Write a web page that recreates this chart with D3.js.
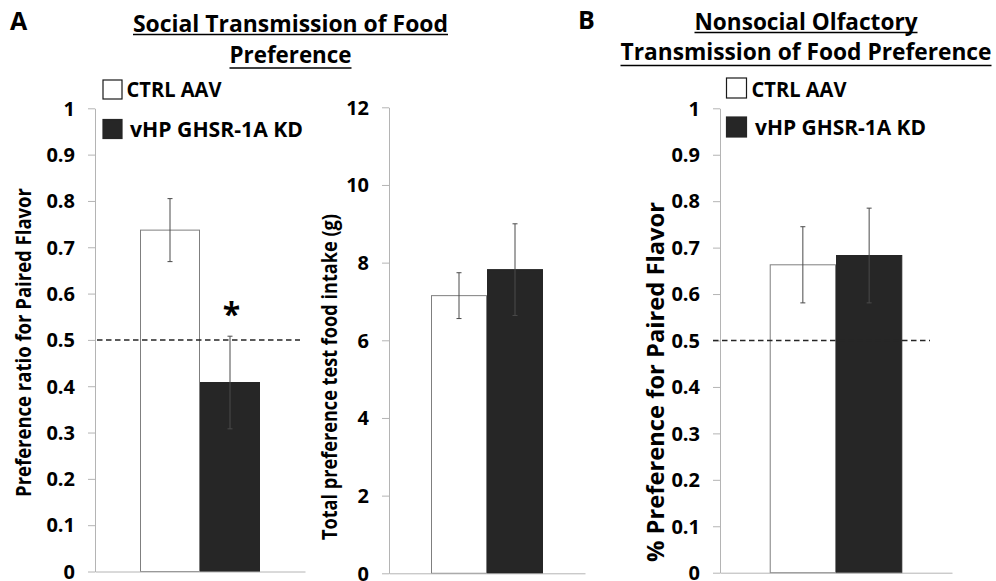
<!DOCTYPE html>
<html>
<head>
<meta charset="utf-8">
<script src="https://cdn.jsdelivr.net/npm/d3@7"></script>
<style>
  html, body { margin: 0; padding: 0; background: #ffffff; }
  svg { display: block; font-family: "Open Sans", Lato, "Liberation Sans", sans-serif; font-weight: bold; }
</style>
</head>
<body>
<script>
// ---------- data ----------
const groups = ["CTRL AAV", "vHP GHSR-1A KD"];
const socialRatio = [0.737, 0.408];
const socialRatioErr = [0.068, 0.100];
const totalIntake = [7.15, 7.82];
const totalIntakeErr = [0.59, 1.18];
const nonsocialPref = [0.663, 0.683];
const nonsocialPrefErr = [0.082, 0.102];
const ratioTicks = [0, 0.1, 0.2, 0.3, 0.4, 0.5, 0.6, 0.7, 0.8, 0.9, 1];
const intakeTicks = [0, 2, 4, 6, 8, 10, 12];
const chanceLevel = 0.5;

// ---------- styles ----------
const fills = ["#ffffff", "#262626"];
const strokes = ["#7f7f7f", "#262626"];
const axisColor = "#b4b4b4";
const errColor = "#4a4a4a";
const FONT = "'Open Sans', Lato, sans-serif";

const svg = d3.select("body").append("svg")
  .attr("width", 996).attr("height", 581);

function drawPanel(p) {
  const x = d3.scaleBand().domain(groups).range(p.xr).paddingInner(0).paddingOuter(0.75);
  const y = d3.scaleLinear().domain(p.domain).range(p.yr);
  const g = svg.append("g");

  // bars
  g.selectAll("rect.bar").data(groups).join("rect")
    .attr("class", "bar")
    .attr("x", d => x(d) + 0.5)
    .attr("y", (d, i) => y(p.values[i]))
    .attr("width", x.bandwidth() - 1)
    .attr("height", (d, i) => y(p.domain[0]) - y(p.values[i]))
    .attr("fill", (d, i) => fills[i])
    .attr("stroke", (d, i) => strokes[i])
    .attr("stroke-width", 1);

  // error bars
  const cap = 2.5;
  groups.forEach((d, i) => {
    const cx = x(d) + x.bandwidth() / 2;
    const top = y(p.values[i] + p.errors[i]);
    const bot = y(p.values[i] - p.errors[i]);
    const eg = g.append("g").attr("stroke", errColor).attr("stroke-width", 1);
    eg.append("line").attr("x1", cx).attr("x2", cx).attr("y1", top).attr("y2", bot);
    eg.append("line").attr("x1", cx - cap).attr("x2", cx + cap).attr("y1", top).attr("y2", top);
    eg.append("line").attr("x1", cx - cap).attr("x2", cx + cap).attr("y1", bot).attr("y2", bot);
  });

  // y axis
  const ya = g.append("g").attr("transform", `translate(${p.xr[0]},0)`)
    .call(d3.axisLeft(y).tickValues(p.ticks).tickSize(7).tickSizeOuter(0).tickPadding(13)
      .tickFormat(d3.format("~g")));
  ya.select(".domain").attr("stroke", axisColor);
  ya.selectAll(".tick line").attr("stroke", axisColor);
  ya.selectAll(".tick text").attr("fill", "#000").attr("font-size", 20)
    .attr("font-family", FONT).attr("font-weight", "bold").attr("dy", "0.34em");

  // x axis (baseline only)
  const xa = g.append("g").attr("transform", `translate(0,${y(p.domain[0])})`)
    .call(d3.axisBottom(x).tickSize(0).tickSizeOuter(0).tickFormat(""));
  xa.select(".domain").attr("stroke", axisColor);

  // chance line
  if (p.dash) {
    g.append("line")
      .attr("x1", p.dash[0]).attr("x2", p.dash[1])
      .attr("y1", y(chanceLevel)).attr("y2", y(chanceLevel))
      .attr("stroke", "#262626").attr("stroke-width", 1.5)
      .attr("stroke-dasharray", "5.5,3.5");
  }

  // y label
  g.append("text")
    .attr("transform", `translate(${p.label.x},${p.label.y}) rotate(-90)`)
    .attr("text-anchor", "middle")
    .attr("font-size", p.label.fs)
    .attr("textLength", p.label.len).attr("lengthAdjust", "spacingAndGlyphs")
    .text(p.label.text);

  if (p.star) {
    const i = 1;
    g.append("text")
      .attr("x", x(groups[i]) + x.bandwidth() / 2 + 1.5)
      .attr("y", p.star)
      .attr("text-anchor", "middle")
      .attr("font-size", 32)
      .text("*");
  }
}

function drawTitle(lines, cx) {
  lines.forEach(l => {
    svg.append("text")
      .attr("x", cx).attr("y", l.y)
      .attr("text-anchor", "middle")
      .attr("font-size", 24)
      .attr("textLength", l.len).attr("lengthAdjust", "spacingAndGlyphs")
      .text(l.text);
    svg.append("line")
      .attr("x1", cx - l.len / 2).attr("x2", cx + l.len / 2)
      .attr("y1", l.u).attr("y2", l.u)
      .attr("stroke", "#000").attr("stroke-width", 1.6);
  });
}

function drawLegend(lg) {
  groups.forEach((d, i) => {
    svg.append("rect")
      .attr("x", lg.x).attr("y", lg.ys[i])
      .attr("width", lg.size).attr("height", lg.size)
      .attr("fill", fills[i]).attr("stroke", i === 0 ? "#1a1a1a" : "#262626")
      .attr("stroke-width", 1.2);
    svg.append("text")
      .attr("x", lg.tx[i]).attr("y", lg.ty[i])
      .attr("font-size", 21)
      .attr("textLength", lg.len[i]).attr("lengthAdjust", "spacingAndGlyphs")
      .text(d);
  });
}

// panel letters
svg.append("text").attr("x", 10).attr("y", 30).attr("font-size", 25).text("A");
svg.append("text").attr("x", 578).attr("y", 28.5).attr("font-size", 25).text("B");

drawTitle([
  {text: "Social Transmission of Food", y: 32, u: 34.5, len: 315},
  {text: "Preference", y: 62.5, u: 68, len: 122}
], 290.5);
drawTitle([
  {text: "Nonsocial Olfactory", y: 29.5, u: 32.5, len: 223},
  {text: "Transmission of Food Preference", y: 60, u: 65.5, len: 371}
], 806);

drawPanel({
  values: socialRatio, errors: socialRatioErr, ticks: ratioTicks, domain: [0, 1],
  xr: [95, 305], yr: [571.5, 108.3], dash: [97, 300], star: 326,
  label: {text: "Preference ratio for Paired Flavor", x: 31, y: 342.5, fs: 22, len: 309}
});
drawPanel({
  values: totalIntake, errors: totalIntakeErr, ticks: intakeTicks, domain: [0, 12],
  xr: [389, 585], yr: [573.3, 107.3],
  label: {text: "Total preference test food intake (g)", x: 337, y: 377, fs: 21, len: 326}
});
drawPanel({
  values: nonsocialPref, errors: nonsocialPrefErr, ticks: ratioTicks, domain: [0, 1],
  xr: [720, 952], yr: [572.7, 108.3], dash: [713, 930],
  label: {text: "% Preference for Paired Flavor", x: 664, y: 382, fs: 24, len: 360}
});

drawLegend({x: 103, ys: [80, 119.5], size: 19, tx: [126.5, 130], ty: [97, 136.5], len: [95, 173]});
drawLegend({x: 726.5, ys: [78, 117], size: 20, tx: [751.5, 755], ty: [96.7, 135], len: [95, 171]});
</script>
</body>
</html>
